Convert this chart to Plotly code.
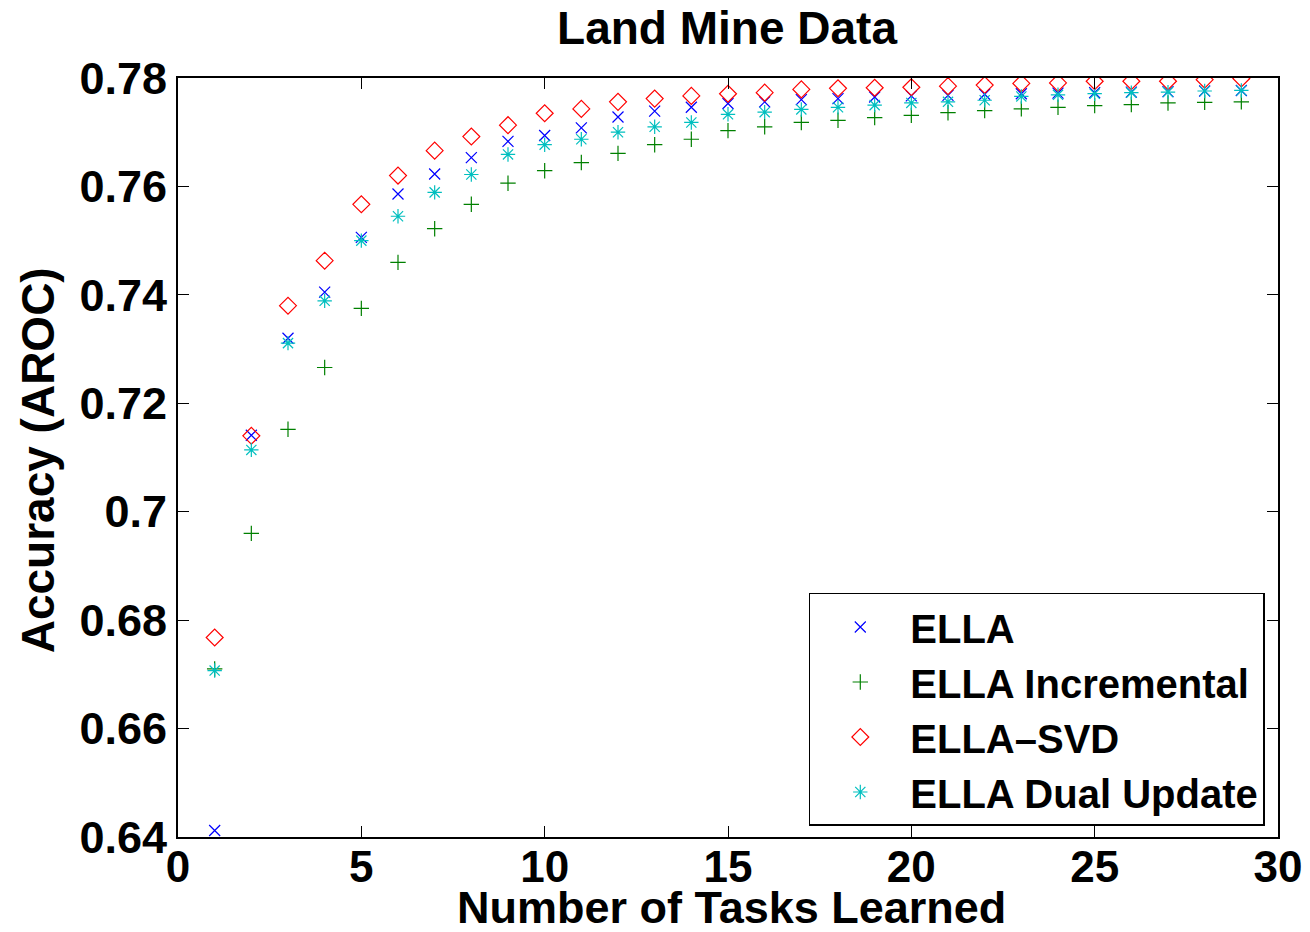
import plotly.graph_objects as go

tasks = list(range(1, 30))

ella = [0.6412, 0.7141, 0.7320, 0.7405, 0.7506, 0.7586, 0.7623, 0.7653, 0.7683, 0.7694,
        0.7708, 0.7728, 0.7739, 0.7746, 0.7753, 0.7756, 0.7760, 0.7762, 0.7765, 0.7767,
        0.7768, 0.7770, 0.7771, 0.7772, 0.7773, 0.7774, 0.7775, 0.7776, 0.7777]
ella_incremental = [0.6710, 0.6960, 0.7152, 0.7266, 0.7375, 0.7460, 0.7522, 0.7567, 0.7606, 0.7629,
                    0.7644, 0.7661, 0.7677, 0.7687, 0.7703, 0.7710, 0.7718, 0.7722, 0.7727, 0.7731,
                    0.7736, 0.7740, 0.7743, 0.7746, 0.7749, 0.7751, 0.7754, 0.7755, 0.7756]
ella_svd = [0.6768, 0.7140, 0.7380, 0.7463, 0.7567, 0.7620, 0.7666, 0.7692, 0.7713, 0.7735,
            0.7743, 0.7756, 0.7762, 0.7767, 0.7771, 0.7773, 0.7779, 0.7781, 0.7782, 0.7783,
            0.7785, 0.7787, 0.7790, 0.7791, 0.7794, 0.7794, 0.7794, 0.7797, 0.7799]
ella_dual = [0.6707, 0.7114, 0.7311, 0.7389, 0.7500, 0.7545, 0.7589, 0.7622, 0.7659, 0.7677,
             0.7687, 0.7700, 0.7710, 0.7718, 0.7733, 0.7737, 0.7742, 0.7746, 0.7750, 0.7754,
             0.7756, 0.7759, 0.7766, 0.7769, 0.7771, 0.7773, 0.7774, 0.7776, 0.7777]

x_ticks = [0, 5, 10, 15, 20, 25, 30]
y_ticks = [0.64, 0.66, 0.68, 0.70, 0.72, 0.74, 0.76, 0.78]
y_ticklabels = ["0.64", "0.66", "0.68", "0.7", "0.72", "0.74", "0.76", "0.78"]

series = [
    ("ELLA", ella, "x-thin-open", "rgb(0,0,255)", 11),
    ("ELLA Incremental", ella_incremental, "cross-thin-open", "rgb(0,128,0)", 11),
    ("ELLA\u2013SVD", ella_svd, "diamond-open", "rgb(255,0,0)", 13),
    ("ELLA Dual Update", ella_dual, "asterisk-open", "rgb(0,191,191)", 12),
]

fig = go.Figure()
for name, vals, sym, col, sz in series:
    fig.add_trace(go.Scatter(
        x=tasks, y=vals, mode="markers", name="<b>%s</b>" % name,
        marker=dict(symbol=sym, size=sz, color=col, line=dict(color=col, width=1.2)),
    ))

ff = "Liberation Sans, Arial, Helvetica, sans-serif"
fig.update_layout(
    width=1310, height=932,
    margin=dict(l=178, r=32, t=78, b=95),
    paper_bgcolor="white", plot_bgcolor="white",
    title=dict(text="<b>Land Mine Data</b>", x=0.555, xanchor="center", y=0.97, yanchor="middle",
               font=dict(family=ff, size=46, color="black")),
    font=dict(family=ff, color="black"),
    showlegend=True,
    xaxis=dict(range=[0, 30], tickvals=x_ticks, ticktext=["<b>%d</b>" % v for v in x_ticks],
               ticks="inside", ticklen=11, tickwidth=1.2, tickcolor="black",
               showline=True, linecolor="black", linewidth=2, mirror="ticks",
               showgrid=False, zeroline=False, automargin=False,
               ticklabelstandoff=-10,
               tickfont=dict(size=44, family=ff, color="black")),
    yaxis=dict(range=[0.64, 0.78], tickvals=y_ticks, ticktext=["<b>%s</b>" % t for t in y_ticklabels],
               ticks="inside", ticklen=11, tickwidth=1.2, tickcolor="black",
               showline=True, linecolor="black", linewidth=2, mirror="ticks",
               showgrid=False, zeroline=False, automargin=False,
               tickfont=dict(size=45, family=ff, color="black")),
    legend=dict(x=0.988, y=0.0145, xanchor="right", yanchor="bottom",
                bgcolor="white", bordercolor="black", borderwidth=1.5,
                font=dict(size=40, family=ff, color="black"),
                itemsizing="trace", itemwidth=90, tracegroupgap=0,
                entrywidth=425, entrywidthmode="pixels"),
    annotations=[
        dict(text="<b>Number of Tasks Learned</b>", xref="paper", yref="paper",
             x=0.503, y=-0.093, xanchor="center", yanchor="middle", showarrow=False,
             font=dict(size=45, family=ff, color="black")),
        dict(text="<b>Accuracy (AROC)</b>", xref="paper", yref="paper",
             x=-0.127, y=0.4967, xanchor="center", yanchor="middle", showarrow=False,
             textangle=-90, font=dict(size=46, family=ff, color="black")),
    ],
)

fig.write_html("out.html", config={"displayModeBar": False},
               post_script="document.body.style.margin='0px';")
